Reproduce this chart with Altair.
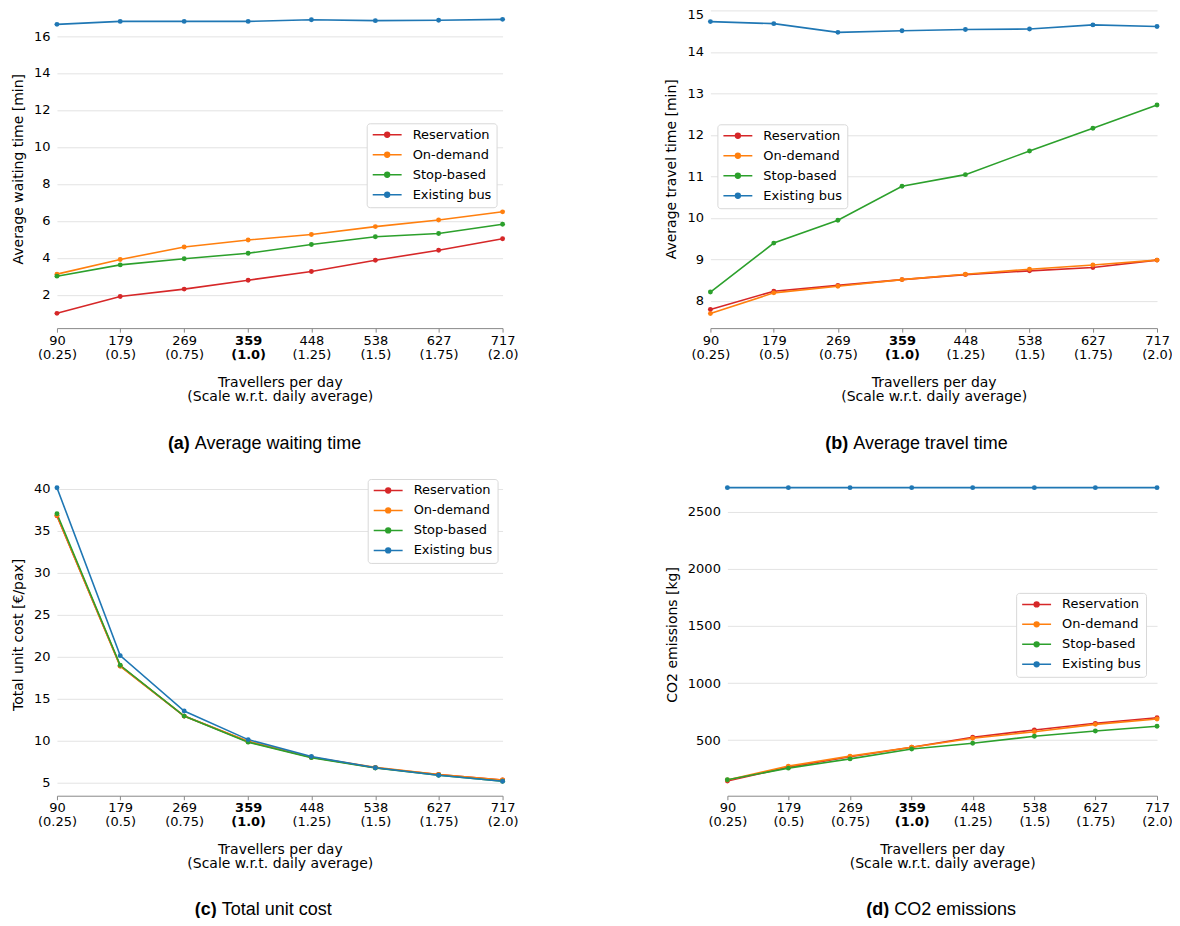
import altair as alt
import pandas as pd

# ---------------- data ----------------
travellers = [90, 179, 269, 359, 448, 538, 627, 717]
scale_labels = ["0.25", "0.5", "0.75", "1.0", "1.25", "1.5", "1.75", "2.0"]
series = ["Reservation", "On-demand", "Stop-based", "Existing bus"]
colors = ["#d62728", "#ff7f0e", "#2ca02c", "#1f77b4"]

wait_res = [1.00, 1.91, 2.31, 2.79, 3.26, 3.87, 4.41, 5.03]
wait_ond = [3.12, 3.91, 4.59, 4.97, 5.26, 5.69, 6.05, 6.49]
wait_stop = [3.01, 3.62, 3.95, 4.25, 4.72, 5.14, 5.32, 5.82]
wait_bus = [16.63, 16.79, 16.79, 16.79, 16.88, 16.83, 16.85, 16.90]

travel_res = [7.79, 8.23, 8.37, 8.51, 8.63, 8.72, 8.80, 8.98]
travel_ond = [7.69, 8.19, 8.35, 8.51, 8.64, 8.76, 8.86, 8.98]
travel_stop = [8.21, 9.39, 9.94, 10.76, 11.04, 11.61, 12.16, 12.72]
travel_bus = [14.73, 14.68, 14.47, 14.51, 14.54, 14.55, 14.65, 14.61]

cost_res = [36.75, 18.87, 12.90, 9.85, 8.00, 6.75, 5.95, 5.30]
cost_ond = [36.80, 18.85, 12.90, 9.90, 8.00, 6.80, 5.95, 5.30]
cost_stop = [37.00, 18.95, 12.90, 9.80, 7.95, 6.72, 5.85, 5.15]
cost_bus = [40.10, 20.10, 13.50, 10.10, 8.10, 6.75, 5.85, 5.15]

co2_res = [143, 265, 355, 439, 526, 590, 648, 697]
co2_ond = [152, 274, 361, 439, 517, 575, 639, 686]
co2_stop = [155, 256, 337, 424, 474, 535, 581, 622]
co2_bus = [2709, 2709, 2709, 2709, 2709, 2709, 2709, 2709]

wait_ticks = [2, 4, 6, 8, 10, 12, 14, 16]
travel_ticks = [8, 9, 10, 11, 12, 13, 14, 15]
cost_ticks = [5, 10, 15, 20, 25, 30, 35, 40]
co2_ticks = [500, 1000, 1500, 2000, 2500]

x_title = ["Travellers per day", "(Scale w.r.t. daily average)"]

# ---------------- helpers ----------------
def make_df(vals_list):
    rows = []
    for k, (s, vals) in enumerate(zip(series, vals_list)):
        for t, v in zip(travellers, vals):
            rows.append({"x": t, "series": s, "y": v, "k": k})
    return pd.DataFrame(rows)


label_expr = " : ".join(
    f"datum.value == {t} ? ['{t}', '({s})']" for t, s in zip(travellers, scale_labels)
) + " : ''"

LEG_PATH = "M-3,0L3,0M-0.5,0A0.5,0.5,0,1,0,0.5,0A0.5,0.5,0,1,0,-0.5,0Z"
FONT = "DejaVu Sans"


def panel(df, ytitle, ydomain, yticks, width, height, legx, legy,
          cap_bold, cap_rest, cap_x, cap_dy, flush=False):
    xenc = alt.X(
        "x:Q",
        scale=alt.Scale(domain=[90, 717], nice=False, zero=False),
        axis=alt.Axis(
            values=travellers, labelExpr=label_expr, grid=False,
            labelFontWeight={"condition": {"test": "datum.value == 359", "value": "bold"},
                             "value": "normal"},
            labelLineHeight=14, labelPadding=2, tickSize=4, tickColor="#888888",
            domainColor="#888888", labelFont=FONT, labelFontSize=13, labelColor="black",
            labelFlush=False, labelOverlap=False,
            title=x_title, titleFont=FONT, titleFontSize=14, titleFontWeight="normal",
            titleColor="black", titlePadding=14, titleLineHeight=14,
        ),
    )
    yenc = alt.Y(
        "y:Q",
        scale=alt.Scale(domain=ydomain, nice=False, zero=False),
        axis=alt.Axis(
            values=yticks, grid=True, gridColor="#e3e3e3", gridWidth=1,
            domain=False, ticks=False, tickSize=0, labelPadding=7,
            labelFont=FONT, labelFontSize=13, labelColor="black",
            labelFlush=2 if flush else False, labelFlushOffset=2 if flush else 0,
            format="d",
            title=ytitle, titleFont=FONT, titleFontSize=14, titleFontWeight="normal",
            titleColor="black", titlePadding=8,
        ),
    )
    legend = alt.Legend(
        orient="none", legendX=legx, legendY=legy, title=None,
        symbolType=LEG_PATH, symbolSize=93, symbolStrokeWidth=1.5,
        symbolOffset=9, labelOffset=19,
        labelFont=FONT, labelFontSize=13, labelColor="black",
        fillColor="white", strokeColor="#d8d8d8", cornerRadius=3,
        padding=5, rowPadding=6,
    )
    cenc = alt.Color("series:N", scale=alt.Scale(domain=series, range=colors),
                     legend=legend, sort=series)
    base = alt.Chart(df)
    lines = base.mark_line(strokeWidth=1.6).encode(
        x=xenc, y=yenc, color=cenc, order="x:Q", detail="series:N"
    )
    pts = base.mark_point(filled=True, size=24, opacity=1).encode(
        x=xenc, y=yenc, color=cenc
    )
    cap1 = alt.Chart(pd.DataFrame({"t": [cap_bold]})).mark_text(
        font="Liberation Sans", fontSize=18, fontWeight="bold", align="right",
        baseline="middle", color="black",
    ).encode(x=alt.value(cap_x), y=alt.value(height + cap_dy), text="t:N")
    cap2 = alt.Chart(pd.DataFrame({"t": [cap_rest]})).mark_text(
        font="Liberation Sans", fontSize=18, fontWeight="normal", align="left",
        baseline="middle", color="black",
    ).encode(x=alt.value(cap_x + 5), y=alt.value(height + cap_dy), text="t:N")
    return alt.layer(lines, pts, cap1, cap2).properties(width=width, height=height)


pa = panel(make_df([wait_res, wait_ond, wait_stop, wait_bus]),
           "Average waiting time [min]", [0.2, 17.44], wait_ticks, 446, 319,
           310, 114, "(a)", "Average waiting time", 133, 116)
pb = panel(make_df([travel_res, travel_ond, travel_stop, travel_bus]),
           "Average travel time [min]", [7.34, 15.024], travel_ticks, 447, 319,
           7, 115, "(b)", "Average travel time", 138, 116, flush=True)
pc = panel(make_df([cost_res, cost_ond, cost_stop, cost_bus]),
           "Total unit cost [€/pax]", [3.42, 41.85], cost_ticks, 446, 323,
           311, 6, "(c)", "Total unit cost", 160, 114)
pd_ = panel(make_df([co2_res, co2_ond, co2_stop, co2_bus]),
            "CO2 emissions [kg]", [15, 2837], co2_ticks, 430, 323,
            289, 120, "(d)", "CO2 emissions", 162, 114)

row1 = alt.hconcat(pa, pb, spacing=208, bounds="flush").resolve_scale(color="independent")
row2 = alt.hconcat(pc, pd_, spacing=225, bounds="flush").resolve_scale(color="independent")

chart = (
    alt.vconcat(row1, row2, spacing=20)
    .resolve_scale(color="independent")
    .properties(padding={"left": 3, "top": -1, "right": -1, "bottom": -1})
    .configure_view(stroke=None)
)

chart.save("out.html", embed_options={"renderer": "svg", "actions": False})
